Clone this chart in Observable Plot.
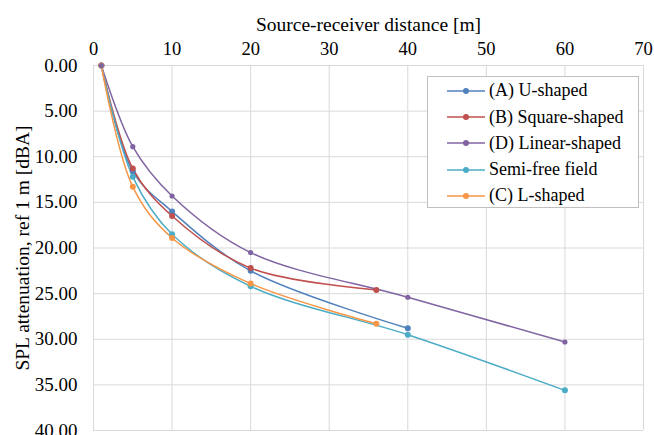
<!DOCTYPE html>
<html><head><meta charset="utf-8">
<script src="https://cdn.jsdelivr.net/npm/d3@7"></script>
<script src="https://cdn.jsdelivr.net/npm/@observablehq/plot@0.6"></script>
<style>
body{margin:0;background:#fff;font-family:"Liberation Serif","Times New Roman",serif;}
#wrap{position:relative;width:654px;height:435px;overflow:hidden;}
#legend{position:absolute;left:427px;top:76px;width:212px;height:132px;border:1px solid #bfbfbf;background:#fff;box-sizing:border-box;font-size:18px;color:#000;}
.item{position:absolute;left:19px;height:20px;display:flex;align-items:center;white-space:nowrap;}
.item svg{margin-right:4px;}
</style></head>
<body><div id="wrap"><div id="legend"></div></div>
<script>
const seriesNames = ["(A) U-shaped","(B) Square-shaped","(D) Linear-shaped","Semi-free field","(C) L-shaped"];
const colors = ["#4F81BD","#C0504D","#8064A2","#4BACC6","#F79646"];
const xA = [1,5,10,20,40];       const yA = [0,11.6,16.0,22.5,28.8];
const xB = [1,5,10,20,36];       const yB = [0,11.3,16.5,22.2,24.6];
const xD = [1,5,10,20,40,60];    const yD = [0,8.9,14.3,20.5,25.4,30.3];
const xS = [1,5,10,20,40,60];    const yS = [0,12.2,18.5,24.2,29.5,35.6];
const xC = [1,5,10,20,36];       const yC = [0,13.3,18.9,23.9,28.3];
const xTicks = [0,10,20,30,40,50,60,70];
const yTicks = [0,5,10,15,20,25,30,35,40];
const xs = [xA,xB,xD,xS,xC], ys=[yA,yB,yD,yS,yC];
const data = [];
seriesNames.forEach((s,i)=>xs[i].forEach((x,j)=>data.push({series:s,x,y:ys[i][j]})));
const rOf = s => s==="(D) Linear-shaped" ? 3 : 4;

const chart = Plot.plot({
  width:654, height:435,
  marginLeft:93, marginRight:11, marginTop:65, marginBottom:5,
  style:{fontFamily:'"Liberation Serif","Times New Roman",serif', fontSize:"18px", color:"#000", background:"#fff", overflow:"visible"},
  x:{domain:[0,70], axis:null},
  y:{domain:[0,40], reverse:true, axis:null},
  color:{domain:seriesNames, range:colors},
  marks:[
    Plot.gridX(xTicks,{stroke:"#d9d9d9", strokeOpacity:1, strokeWidth:1}),
    Plot.gridY(yTicks,{stroke:"#d9d9d9", strokeOpacity:1, strokeWidth:1}),
    Plot.axisX(xTicks,{anchor:"top", tickSize:0, tickPadding:11, fontSize:18.5, label:null}),
    Plot.axisY(yTicks,{anchor:"left", tickSize:0, tickPadding:16, tickFormat:d3.format(".2f"), fontSize:19, label:null}),
    Plot.line(data,{x:"x", y:"y", stroke:"series", z:"series", curve:"catmull-rom", strokeWidth:1.5}),
    Plot.dot(data,{x:"x", y:"y", fill:"series", r:d=>rOf(d.series)}),
    Plot.text(["Source-receiver distance [m]"],{frameAnchor:"top", dy:-48, fontSize:19.5, text:d=>d}),
    Plot.text(["SPL attenuation, ref 1 m [dBA]"],{frameAnchor:"left", textAnchor:"middle", dx:-71, rotate:-90, fontSize:19.5, text:d=>d})
  ]
});
chart.setAttribute("style", chart.getAttribute("style")+";position:absolute;left:0;top:0;");
const wrap = document.getElementById("wrap");
wrap.insertBefore(chart, wrap.firstChild);

const leg = document.getElementById("legend");
seriesNames.forEach((s,i)=>{
  const d = document.createElement("div");
  d.className="item";
  d.style.top = (3.7 + i*26.3) + "px";
  d.innerHTML = `<svg width="38" height="10"><line x1="0" x2="38" y1="5" y2="5" stroke="${colors[i]}" stroke-width="1.5"/><circle cx="19" cy="5" r="3" fill="${colors[i]}"/></svg><span>${s}</span>`;
  leg.appendChild(d);
});
</script></body></html>
